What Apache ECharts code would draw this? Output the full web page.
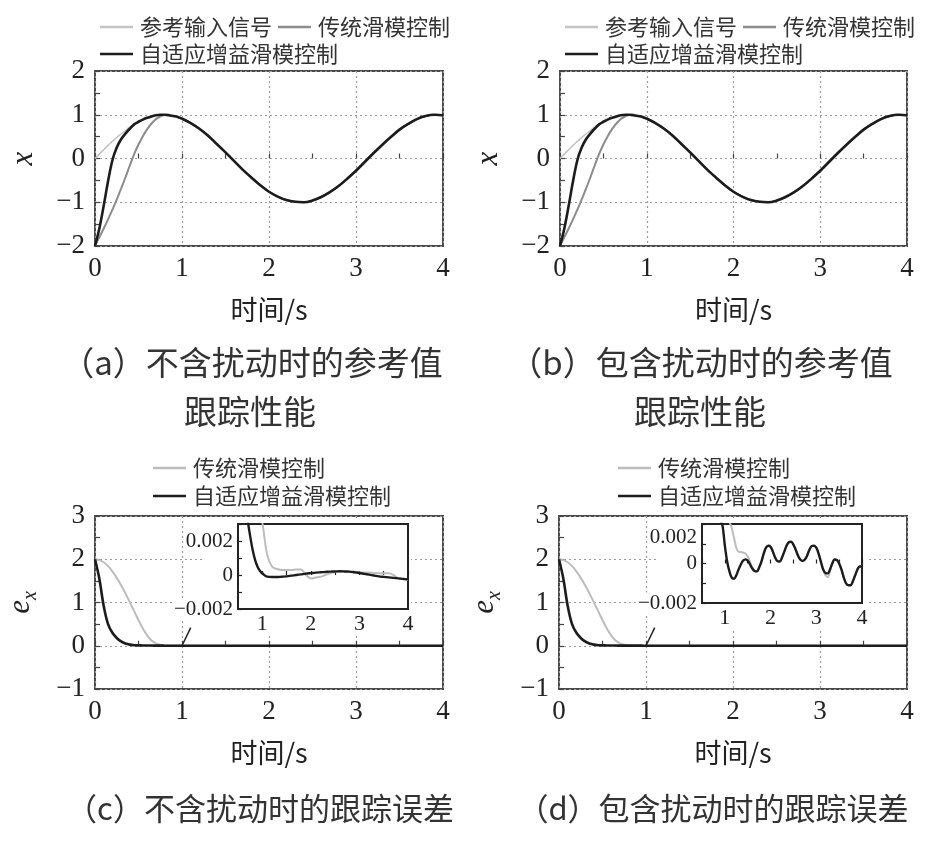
<!DOCTYPE html>
<html><head><meta charset="utf-8">
<script src="https://cdn.jsdelivr.net/npm/echarts@6/dist/echarts.min.js"></script>
<style>html,body{margin:0;padding:0;background:#fff}#c{width:939px;height:842px}</style>
</head><body><div id="c"></div>
<script>
// ---------- data ----------
const tMain = [0,0.05,0.1,0.15,0.2,0.25,0.3,0.35,0.4,0.45,0.5,0.55,0.6,0.65,0.7,0.75,0.8,0.85,0.9,0.95,1.0,
  1.1,1.2,1.3,1.4,1.5,1.6,1.7,1.8,1.9,2.0,2.1,2.2,2.3,2.4,2.5,2.6,2.7,2.8,2.9,3.0,3.1,3.2,3.3,3.4,3.5,3.6,3.7,3.8,3.9,4.0];
// reference input signal
const xRef = [0,0.10,0.20,0.30,0.39,0.48,0.56,0.64,0.72,0.78,0.84,0.89,0.93,0.96,0.99,1.00,1.00,0.99,0.97,0.95,0.91,
  0.81,0.68,0.52,0.33,0.14,-0.06,-0.26,-0.44,-0.61,-0.76,-0.87,-0.95,-0.99,-1.00,-0.96,-0.88,-0.77,-0.63,-0.46,-0.28,-0.08,0.12,0.31,0.49,0.66,0.79,0.90,0.97,1.00,0.99];
// conventional sliding mode control
const xSmc = [-2,-1.8,-1.6,-1.39,-1.17,-0.94,-0.69,-0.43,-0.16,0.1,0.32,0.51,0.67,0.8,0.9,0.96,0.995,0.99,0.97,0.95,0.91,
  0.81,0.68,0.52,0.33,0.14,-0.06,-0.26,-0.44,-0.61,-0.76,-0.87,-0.95,-0.99,-1.00,-0.96,-0.88,-0.77,-0.63,-0.46,-0.28,-0.08,0.12,0.31,0.49,0.66,0.79,0.90,0.97,1.00,0.99];
// adaptive gain sliding mode control
const xAsmc = [-2,-1.6,-1.08,-0.52,-0.04,0.25,0.44,0.57,0.68,0.78,0.84,0.89,0.93,0.96,0.99,1.00,1.00,0.99,0.97,0.95,0.91,
  0.81,0.68,0.52,0.33,0.14,-0.06,-0.26,-0.44,-0.61,-0.76,-0.87,-0.95,-0.99,-1.00,-0.96,-0.88,-0.77,-0.63,-0.46,-0.28,-0.08,0.12,0.31,0.49,0.66,0.79,0.90,0.97,1.00,0.99];
// tracking error without disturbance (c)
const eSmcC = [2,1.98,1.93,1.84,1.72,1.57,1.4,1.21,1.01,0.8,0.59,0.4,0.24,0.12,0.055,0.022,0.008,0.005,0.0042,0.0035,0.0031,
  0.0012,0.0005,0.00035,0.0003,0.0003,0.0003,0.00033,0.00032,0.0,-0.0002,-0.00015,-0.0001,0.0,0.0001,0.00018,0.0002,0.0002,0.00018,0.00016,0.00015,0.00014,0.00014,0.00012,0.0001,0.0001,0.0001,0.0,-0.0002,-0.00025,-0.0003];
const eAsmcC = [2,1.55,0.92,0.5,0.3,0.18,0.1,0.052,0.026,0.013,0.009,0.0065,0.0052,0.0042,0.0032,0.0023,0.0015,0.0009,0.0005,0.00025,0.0001,
  -0.0001,-0.00012,-0.00012,-0.0001,-0.00008,-0.00004,0,0.00004,0.00008,0.00011,0.00014,0.00016,0.00018,0.0002,0.00021,0.00022,0.00021,0.0002,0.00016,0.00012,0.00007,0.00002,-0.00003,-0.00008,-0.00011,-0.00014,-0.00017,-0.0002,-0.00023,-0.00026];
// tracking error with disturbance (d)
const tD = [0,0.05,0.1,0.15,0.2,0.25,0.3,0.35,0.4,0.45,0.5,0.55,0.6,0.65,0.7,0.75,0.8,0.85,0.9,0.95,
  1.0,1.05,1.1,1.15,1.2,1.25,1.3,1.35,1.4,1.45,1.5,1.55,1.6,1.65,1.7,1.75,1.8,1.85,1.9,1.95,
  2.0,2.05,2.1,2.15,2.2,2.25,2.3,2.35,2.4,2.45,2.5,2.55,2.6,2.65,2.7,2.75,2.8,2.85,2.9,2.95,
  3.0,3.05,3.1,3.15,3.2,3.25,3.3,3.35,3.4,3.45,3.5,3.55,3.6,3.65,3.7,3.75,3.8,3.85,3.9,3.95,4.0];
const eSmcD = [2,1.98,1.93,1.84,1.72,1.57,1.4,1.21,1.01,0.8,0.59,0.4,0.24,0.12,0.055,0.022,0.008,0.005,0.0038,0.003,
  0.0026,0.0023,0.0021,0.0018,0.0013,0.0008,0.0006,0.00058,0.00056,0.0005,0.00035,0.0001,-0.0002,-0.00036,-0.0004,-0.0002,0.0001,0.0005,0.0008,0.0009,
  0.00085,0.0006,0.0003,0.00012,0.0001,0.0003,0.0006,0.0009,0.00108,0.0011,0.00095,0.0007,0.0004,0.0002,0.00013,0.0002,0.0004,0.0007,0.00088,0.0009,
  0.0008,0.0005,0.0001,-0.0003,-0.0006,-0.0007,-0.0004,0.0,0.0002,0.00018,0.0,-0.0003,-0.0007,-0.001,-0.0011,-0.0011,-0.0009,-0.0006,-0.0003,-0.00015,-0.00015];
const eAsmcD = [2,1.55,0.92,0.5,0.3,0.18,0.1,0.052,0.026,0.013,0.009,0.0065,0.0052,0.0042,0.0035,0.003,0.0027,0.0024,0.0022,0.0019,
  0.0009,0.0001,-0.0004,-0.00072,-0.00077,-0.0006,-0.0003,-0.00005,0.00015,0.00021,0.00015,-0.00005,-0.00025,-0.00038,-0.0004,-0.0002,0.0001,0.0005,0.0008,0.0009,
  0.00085,0.0006,0.0003,0.00012,0.0001,0.0003,0.0006,0.0009,0.00108,0.0011,0.00095,0.0007,0.0004,0.0002,0.00013,0.0002,0.0004,0.0007,0.00088,0.0009,
  0.0008,0.0005,0.0001,-0.0003,-0.00048,-0.0005,-0.0003,0.0,0.0002,0.00018,0.0,-0.0003,-0.0007,-0.001,-0.0011,-0.0011,-0.0009,-0.0006,-0.0003,-0.00015,-0.00015];
// inset pointer line (t, e)
const ptrT = [1.0, 1.1];
const ptrE = [0, 0.42];
// labels
const LBL = {
  aRef:'参考输入信号', aSmc:'传统滑模控制', aAsmc:'自适应增益滑模控制',
  bRef:'参考输入信号', bSmc:'传统滑模控制', bAsmc:'自适应增益滑模控制',
  cSmc:'传统滑模控制', cAsmc:'自适应增益滑模控制',
  dSmc:'传统滑模控制', dAsmc:'自适应增益滑模控制'
};
const captions = ['（a）不含扰动时的参考值','跟踪性能','（b）包含扰动时的参考值','跟踪性能','（c）不含扰动时的跟踪误差','（d）包含扰动时的跟踪误差'];
const xName = '时间/s';

// ---------- styling ----------
const SERIF = 'Liberation Serif, Times New Roman, serif';
const CJK = 'Noto Sans CJK SC, sans-serif';
const C_REF = '#c4c4c4', C_SMC = '#8c8c8c', C_SMC_E = '#bdbdbd', C_ASMC = '#1c1c1c';
const zip = (t, v) => t.map((x, i) => [x, v[i]]);
const neg = v => (v < 0 ? '\u2212' + Math.abs(v) : String(v));

function mainX(gi) {
  return {type:'value', gridIndex:gi, min:0, max:4, interval:1,
    name:xName, nameLocation:'middle', nameGap:50,
    nameTextStyle:{fontFamily:CJK, fontSize:27, color:'#222'},
    axisLine:{show:false},
    axisTick:{inside:true, length:5, lineStyle:{color:'#444', width:1.2}},
    minorTick:{show:true, splitNumber:2, length:5, lineStyle:{color:'#444', width:1.2}},
    splitLine:{show:true, lineStyle:{type:[2,3], color:'#9a9a9a', width:1.2}},
    axisLabel:{fontFamily:SERIF, fontSize:27, color:'#222', margin:9, formatter:neg}};
}
function mainY(gi, min, max, name, nameGap) {
  return {type:'value', gridIndex:gi, min:min, max:max, interval:1,
    name:name, nameLocation:'middle', nameGap:nameGap,
    nameTextStyle:{fontFamily:SERIF, fontStyle:'italic', fontSize:31, color:'#222',
      rich:{e:{fontFamily:SERIF, fontStyle:'italic', fontSize:31, color:'#222', lineHeight:40, verticalAlign:'middle'},
            s:{fontFamily:SERIF, fontStyle:'italic', fontSize:20, color:'#222', lineHeight:40, verticalAlign:'bottom'}}},
    axisLine:{show:false},
    axisTick:{inside:true, length:5, lineStyle:{color:'#444', width:1.2}},
    minorTick:{show:true, splitNumber:2, length:5, lineStyle:{color:'#444', width:1.2}},
    splitLine:{show:true, lineStyle:{type:[2,3], color:'#9a9a9a', width:1.2}},
    axisLabel:{fontFamily:SERIF, fontSize:27, color:'#222', margin:10, formatter:neg}};
}
function insetX(gi) {
  return {type:'value', gridIndex:gi, min:0.5, max:4, interval:0.5, z:60,
    axisLine:{show:false},
    axisTick:{inside:true, length:4, lineStyle:{color:'#222', width:1.2}},
    splitLine:{show:false},
    axisLabel:{fontFamily:SERIF, fontSize:22, color:'#222', margin:4,
      formatter:v => (Math.abs(v - Math.round(v)) < 1e-6 ? String(Math.round(v)) : '')}};
}
function insetY(gi, min, max, topShift) {
  return {type:'value', gridIndex:gi, min:min, max:max, interval:0.001, z:60,
    axisLine:{show:false},
    axisTick:{inside:true, length:4, lineStyle:{color:'#222', width:1.2}},
    splitLine:{show:false},
    axisLabel:{fontFamily:SERIF, fontSize:21, color:'#222', margin:5,
      formatter:v => {
        const r = Math.round(v * 10000) / 10000;
        if (r === 0.002) return topShift ? '{t|0.002}' : '{n|0.002}';
        if (r === -0.002) return '{n|\u22120.002}';
        if (r === 0) return '{n|0}';
        return '';
      },
      rich:{
        n:{fontFamily:SERIF, fontSize:21, color:'#222', backgroundColor:'#fff'},
        t:{fontFamily:SERIF, fontSize:21, color:'#222', padding:[topShift || 0,0,0,0]}}}};
}
function ln(name, xi, data, color, width, z) {
  return {type:'line', name:name, xAxisIndex:xi, yAxisIndex:xi, data:data, showSymbol:false, symbol:'none',
    smooth:0.35, lineStyle:{color:color, width:width}, itemStyle:{color:color}, z:z || 2, silent:true, animation:false};
}
function legend(left, top, names) {
  return {left:left, top:top, data:names, icon:'rect', itemWidth:33, itemHeight:2.5, itemGap:6,
    formatter:n => LBL[n], selectedMode:false,
    textStyle:{fontFamily:CJK, fontSize:22, color:'#333', padding:[0,0,0,2]}};
}

const gridBase = {show:true, borderColor:'#4a4a4a', borderWidth:2, containLabel:false};
const capFont = '33px Noto Sans CJK SC';
const capFont2 = '31px Noto Sans CJK SC';
const option = {
  animation:false,
  backgroundColor:'#fff',
  grid:[
    Object.assign({left:95, top:71, width:348, height:175}, gridBase),
    Object.assign({left:560, top:71, width:347, height:175}, gridBase),
    Object.assign({left:95, top:516, width:348, height:173}, gridBase),
    Object.assign({left:559, top:516, width:348, height:173}, gridBase),
    {show:true, left:238, top:524, width:170, height:85, borderColor:'#222', borderWidth:2, backgroundColor:'#fff', z:60},
    {show:true, left:702, top:524, width:160, height:79, borderColor:'#222', borderWidth:2, backgroundColor:'#fff', z:60}
  ],
  xAxis:[mainX(0), mainX(1), mainX(2), mainX(3), insetX(4), insetX(5)],
  yAxis:[
    mainY(0,-2,2,'x',56), mainY(1,-2,2,'x',56),
    mainY(2,-1,3,'{e|e}{s|x}',54), mainY(3,-1,3,'{e|e}{s|x}',54),
    insetY(4,-0.002,0.003,0), insetY(5,-0.002,0.002,26)
  ],
  legend:[
    legend(95, 11, ['aRef','aSmc']), legend(95, 38, ['aAsmc']),
    legend(560, 11, ['bRef','bSmc']), legend(560, 38, ['bAsmc']),
    legend(148, 452, ['cSmc']), legend(148, 480, ['cAsmc']),
    legend(613, 452, ['dSmc']), legend(613, 480, ['dAsmc'])
  ],
  graphic:{elements:[
    {type:'rect', z:50, shape:{x:205, y:520, width:206, height:115}, style:{fill:'#fff'}, silent:true},
    {type:'rect', z:50, shape:{x:656, y:520, width:210, height:108}, style:{fill:'#fff'}, silent:true},
    {type:'text', x:252, y:362, style:{text:captions[0], font:capFont, fill:'#333', align:'center', verticalAlign:'middle'}},
    {type:'text', x:250, y:411, style:{text:captions[1], font:capFont, fill:'#333', align:'center', verticalAlign:'middle'}},
    {type:'text', x:701, y:362, style:{text:captions[2], font:capFont, fill:'#333', align:'center', verticalAlign:'middle'}},
    {type:'text', x:700, y:411, style:{text:captions[3], font:capFont, fill:'#333', align:'center', verticalAlign:'middle'}},
    {type:'text', x:260, y:808, style:{text:captions[4], font:capFont2, fill:'#333', align:'center', verticalAlign:'middle'}},
    {type:'text', x:713, y:808, style:{text:captions[5], font:capFont2, fill:'#333', align:'center', verticalAlign:'middle'}}
  ]},
  series:[
    ln('aRef',0,zip(tMain,xRef),C_REF,1.6), ln('aSmc',0,zip(tMain,xSmc),C_SMC,2), ln('aAsmc',0,zip(tMain,xAsmc),C_ASMC,2.6,3),
    ln('bRef',1,zip(tMain,xRef),C_REF,1.6), ln('bSmc',1,zip(tMain,xSmc),C_SMC,2), ln('bAsmc',1,zip(tMain,xAsmc),C_ASMC,2.6,3),
    ln('cSmc',2,zip(tMain,eSmcC),C_SMC_E,2), ln('cAsmc',2,zip(tMain,eAsmcC),C_ASMC,2.6,3), ln('cPtr',2,zip(ptrT,ptrE),'#222',1.5,3),
    ln('dSmc',3,zip(tD,eSmcD),C_SMC_E,2), ln('dAsmc',3,zip(tD,eAsmcD),C_ASMC,2.6,3), ln('dPtr',3,zip(ptrT,ptrE),'#222',1.5,3),
    ln('ciSmc',4,zip(tMain,eSmcC),C_SMC_E,2,61), ln('ciAsmc',4,zip(tMain,eAsmcC),C_ASMC,2.4,62),
    ln('diSmc',5,zip(tD,eSmcD),C_SMC_E,2,61), ln('diAsmc',5,zip(tD,eAsmcD),C_ASMC,2.4,62)
  ]
};
const chart = echarts.init(document.getElementById('c'), null, {renderer:'canvas'});
chart.setOption(option);
</script></body></html>
